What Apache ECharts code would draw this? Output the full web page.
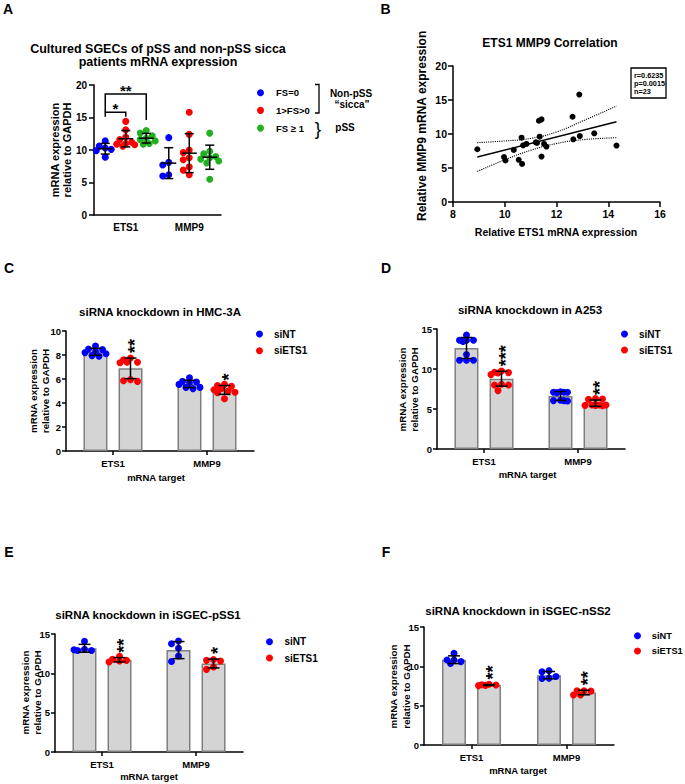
<!DOCTYPE html>
<html>
<head>
<meta charset="utf-8">
<title>ETS1 / MMP9 expression figure</title>
<script src="https://cdn.jsdelivr.net/npm/echarts@6/dist/echarts.min.js"></script>
<style>
html,body{margin:0;padding:0;background:#ffffff;}
#chart{width:685px;height:784px;}
</style>
</head>
<body>
<div id="chart"></div>
<script>
// ===================== DATA =====================
// Panel A : cultured SGECs, mRNA expression relative to GAPDH
const targets = ['ETS1', 'MMP9'];
const fsGroups = ['FS=0', '1>FS>0', 'FS ≥ 1'];
const aYTicks = [0, 5, 10, 15, 20];
const aFs0Ets1  = [11.4, 10.6, 10.3, 10.1, 9.9, 8.9];
const aFs0Mmp9  = [11.9, 8.1, 7.7, 6.2, 6.0];
const aFs01Ets1 = [14.4, 13.1, 12.0, 11.6, 11.2, 11.0, 10.9, 10.8, 10.6];
const aFs01Mmp9 = [15.8, 12.4, 10.0, 9.6, 8.8, 8.5, 7.4, 6.9, 6.2];
const aFs1Ets1  = [13.0, 12.6, 12.2, 11.8, 11.6, 11.4, 11.0, 10.9];
const aFs1Mmp9  = [12.6, 9.8, 9.4, 9.0, 8.8, 8.6, 8.3, 8.0, 5.5];
// significance brackets (group indices, values on the y scale)
const aBracketFrom = [0, 0];
const aBracketTo = [1, 2];
const aBracketTop = [15.8, 18.6];
const aBracketLeftEnd = [15.1, 15.8];
const aBracketRightEnd = [15.1, 14.6];
const aBracketLabel = ['*', '**'];

// Panel B : correlation
const bXTicks = [8, 10, 12, 14, 16];
const bYTicks = [0, 5, 10, 15, 20];
const bEts1 = [8.94, 9.97, 10.03, 10.35, 10.54, 10.65, 10.67, 10.71, 10.84, 11.2, 11.25, 11.32,
               11.42, 11.35, 11.42, 11.52, 11.61, 12.62, 12.65, 12.88, 12.9, 13.46, 14.32];
const bMmp9 = [7.76, 6.6, 6.1, 7.66, 6.2, 9.46, 5.6, 8.34, 8.54, 8.78, 8.7, 11.95,
               12.15, 9.6, 6.68, 8.54, 8.15, 12.54, 9.22, 15.8, 9.7, 10.1, 8.3];
const bFitEts1 = [8.94, 14.32];
const bFitMmp9 = [6.62, 11.8];
const bBandEts1 = [8.94, 10, 11, 12, 13, 14.32];
const bBandUpper = [8.73, 8.98, 9.35, 10.3, 11.9, 14.1];
const bBandLower = [4.5, 6.2, 7.6, 8.6, 9.15, 9.45];
const bStatsText = ['r=0.6235', 'p=0.0015', 'n=23'];

// Panels C-F : siRNA knockdown
const kdGroups = ['siNT', 'siETS1'];
const cYTicks = [0, 2, 4, 6, 8, 10];
const cSiNTEts1   = [8.75, 8.5, 8.45, 8.3, 8.2, 8.1, 7.95, 7.9];
const cSiNTMmp9   = [6.1, 5.8, 5.75, 5.7, 5.55, 5.3, 5.3, 5.2];
const cSiETS1Ets1 = [7.75, 7.6, 7.4, 7.4, 7.35, 5.95, 5.85, 5.8];
const cSiETS1Mmp9 = [5.55, 5.45, 5.4, 5.2, 5.1, 5.0, 4.9, 4.85, 4.35];
const cStars = ['**', '*'];

const dYTicks = [0, 5, 10, 15];
const dSiNTEts1   = [14.25, 13.6, 13.6, 13.6, 13.45, 11.8, 11.1, 11.1, 11.1];
const dSiNTMmp9   = [7.15, 7.1, 7.1, 7.05, 7.1, 6.1, 6.05, 6.0, 6.05];
const dSiETS1Ets1 = [9.75, 9.6, 9.55, 9.5, 9.3, 8.1, 8.0, 8.0, 7.3];
const dSiETS1Mmp9 = [6.3, 6.2, 6.25, 5.5, 5.5, 5.45, 5.5, 5.45, 5.4];
const dStars = ['***', '**'];

const eYTicks = [0, 5, 10, 15];
const eSiNTEts1   = [14.07, 13.05, 12.9, 12.9, 13.0];
const eSiNTMmp9   = [14.1, 13.77, 13.2, 12.2, 11.5];
const eSiETS1Ets1 = [12.16, 11.78, 11.65, 11.57, 11.44];
const eSiETS1Mmp9 = [11.74, 11.65, 11.57, 10.8, 10.5];
const eStars = ['**', '*'];

const fYTicks = [0, 5, 10, 15];
const fSiNTEts1   = [11.65, 10.8, 10.8, 10.6, 10.35];
const fSiNTMmp9   = [9.45, 9.3, 8.7, 8.5, 8.45];
const fSiETS1Ets1 = [7.72, 7.65, 7.62, 7.58, 7.55];
const fSiETS1Mmp9 = [6.9, 6.9, 6.85, 6.35, 6.35];
const fStars = ['**', '**'];

// ===================== STYLE / HELPERS =====================
const FONT = '"Liberation Sans", Arial, Helvetica, sans-serif';
const BLUE = '#0000FF', RED = '#FF0000', GREEN = '#22B022';
const mean = a => a.reduce((s, v) => s + v, 0) / a.length;
const sd = a => { const m = mean(a); return Math.sqrt(a.reduce((s, v) => s + (v - m) * (v - m), 0) / (a.length - 1)); };

// simple beeswarm: horizontal pixel offsets so that dots do not overlap
function swarm(values, pxPerUnit, cands, minDist) {
  const placed = [];
  return values.map(v => {
    const y = v * pxPerUnit;
    let best = cands[0], bestD = -1;
    for (const c of cands) {
      let dmin = Infinity;
      for (const p of placed) dmin = Math.min(dmin, Math.hypot(p[0] - c, p[1] - y));
      if (dmin >= minDist) { best = c; break; }
      if (dmin > bestD) { bestD = dmin; best = c; }
    }
    placed.push([best, y]);
    return best;
  });
}

function valueAxis(gi, ticks, fs, margin, tickLen) {
  return {
    type: 'value', gridIndex: gi, min: ticks[0], max: ticks[ticks.length - 1], interval: ticks[1] - ticks[0],
    axisLine: { show: true, onZero: false, lineStyle: { color: '#000', width: 1.5 } },
    axisTick: { show: true, length: tickLen, lineStyle: { color: '#000', width: 1.5 } },
    axisLabel: { color: '#000', fontWeight: 'bold', fontSize: fs, margin: margin, fontFamily: FONT },
    splitLine: { show: false }
  };
}
function catAxis(gi, showTick, fs, margin) {
  return {
    type: 'category', gridIndex: gi, data: targets,
    axisLine: { show: true, onZero: false, lineStyle: { color: '#000', width: 1.5 } },
    axisTick: { show: showTick, alignWithLabel: true, length: 4, lineStyle: { color: '#000', width: 1.5 } },
    axisLabel: { color: '#000', fontWeight: 'bold', fontSize: fs, margin: margin, fontFamily: FONT },
    splitLine: { show: false }
  };
}
function makeErrRender(offset, capHalf, meanHalf, stars, starSize) {
  return function (params, api) {
    const cat = api.value(0), m = api.value(1), s = api.value(2);
    const c = api.coord([cat, m]);
    const top = api.coord([cat, m + s])[1];
    const bot = api.coord([cat, m - s])[1];
    const x = c[0] + offset;
    const st = { stroke: '#000', lineWidth: 1.5 };
    const ch = [
      { type: 'line', shape: { x1: x, y1: top, x2: x, y2: bot }, style: st },
      { type: 'line', shape: { x1: x - capHalf, y1: top, x2: x + capHalf, y2: top }, style: st },
      { type: 'line', shape: { x1: x - capHalf, y1: bot, x2: x + capHalf, y2: bot }, style: st }
    ];
    if (meanHalf) ch.push({ type: 'line', shape: { x1: x - meanHalf, y1: c[1], x2: x + meanHalf, y2: c[1] }, style: st });
    const label = stars ? stars[params.dataIndex] : '';
    if (label) ch.push({
      type: 'text', x: x + 4, y: top - 5, rotation: Math.PI / 2,
      style: { text: label, fontSize: starSize, fontWeight: 'bold', fontFamily: FONT, fill: '#000', align: 'left', verticalAlign: 'middle' }
    });
    return { type: 'group', children: ch };
  };
}
function T(text, x, y, size, extra) {
  extra = extra || {};
  return {
    type: 'text', x: x, y: y, rotation: extra.rotation || 0, silent: true,
    style: {
      text: text, fontSize: size, fontWeight: extra.weight || 'bold', fontFamily: FONT, fill: extra.fill || '#000',
      align: extra.align || 'center', verticalAlign: extra.valign || 'middle', lineHeight: extra.lineHeight || size * 1.15
    }
  };
}

const grids = [], xAxes = [], yAxes = [], series = [], legends = [], graphics = [];
const legendText = (fs, lh) => ({ fontSize: fs, fontWeight: 'bold', color: '#000', fontFamily: FONT, lineHeight: lh });

// ===================== PANEL A =====================
grids.push({ left: 94, top: 85, width: 127, height: 130, outerBoundsMode: 'none' });
xAxes.push(catAxis(0, false, 10, 7));
yAxes.push(valueAxis(0, aYTicks, 10, 7, 5));
const aData = [[aFs0Ets1, aFs0Mmp9], [aFs01Ets1, aFs01Mmp9], [aFs1Ets1, aFs1Mmp9]];
const aColors = [BLUE, RED, GREEN];
const aOffsets = [-20.5, 0, 20.5];
aData.forEach((grp, g) => {
  const pts = [];
  grp.forEach((vals, t) => {
    const jit = swarm(vals, 130 / 20, [0, -6, 6, -3, 3, -9, 9], 6);
    vals.forEach((v, i) => pts.push({ value: [t, v], symbolOffset: [aOffsets[g] + jit[i], 0] }));
  });
  series.push({ type: 'scatter', name: fsGroups[g], xAxisIndex: 0, yAxisIndex: 0, symbol: 'circle', symbolSize: 7,
    itemStyle: { color: aColors[g], opacity: 1 }, data: pts, z: 3, silent: true });
  series.push({ type: 'custom', xAxisIndex: 0, yAxisIndex: 0, z: 4, silent: true,
    data: grp.map((vals, t) => [t, mean(vals), sd(vals)]),
    renderItem: makeErrRender(aOffsets[g], 4.5, 7.5, null, 0) });
});
series.push({
  type: 'custom', xAxisIndex: 0, yAxisIndex: 0, z: 4, silent: true,
  data: aBracketTop.map((y, i) => [0, y, i]),
  renderItem: function (params, api) {
    const i = params.dataIndex;
    const base = api.coord([0, aBracketTop[i]]);
    const x1 = base[0] + aOffsets[aBracketFrom[i]], x2 = base[0] + aOffsets[aBracketTo[i]];
    const yt = base[1];
    const yl = api.coord([0, aBracketLeftEnd[i]])[1], yr = api.coord([0, aBracketRightEnd[i]])[1];
    return { type: 'group', children: [
      { type: 'polyline', shape: { points: [[x1, yl], [x1, yt], [x2, yt], [x2, yr]] }, style: { stroke: '#000', lineWidth: 1.5, fill: null } },
      { type: 'text', x: (x1 + x2) / 2, y: yt - 4, style: { text: aBracketLabel[i], align: 'center', verticalAlign: 'middle', fontSize: 15, fontWeight: 'bold', fontFamily: FONT, fill: '#000' } }
    ] };
  }
});
legends.push({ data: fsGroups, left: 257, top: 86.7, orient: 'vertical', padding: 0, itemWidth: 21, itemHeight: 7,
  itemGap: 5.7, icon: 'circle', selectedMode: false, textStyle: legendText(9.5, 12) });

// ===================== PANEL B =====================
grids.push({ left: 453, top: 66, width: 207, height: 136, outerBoundsMode: 'none' });
xAxes.push(valueAxis(1, bXTicks, 10.5, 6, 5));
yAxes.push(valueAxis(1, bYTicks, 10.5, 6, 5));
series.push({ type: 'scatter', name: 'ETS1 vs MMP9', xAxisIndex: 1, yAxisIndex: 1, symbolSize: 6, itemStyle: { color: '#000', opacity: 1 },
  data: bEts1.map((x, i) => [x, bMmp9[i]]), z: 3, silent: true });
series.push({ type: 'line', name: 'fit', xAxisIndex: 1, yAxisIndex: 1, symbol: 'none', silent: true,
  lineStyle: { color: '#000', width: 1.5 }, data: bFitEts1.map((x, i) => [x, bFitMmp9[i]]), z: 2 });
series.push({ type: 'line', name: 'upper 95% CI', xAxisIndex: 1, yAxisIndex: 1, symbol: 'none', smooth: true, silent: true,
  lineStyle: { color: '#000', width: 1.1, type: 'dotted' }, data: bBandEts1.map((x, i) => [x, bBandUpper[i]]), z: 2 });
series.push({ type: 'line', name: 'lower 95% CI', xAxisIndex: 1, yAxisIndex: 1, symbol: 'none', smooth: true, silent: true,
  lineStyle: { color: '#000', width: 1.1, type: 'dotted' }, data: bBandEts1.map((x, i) => [x, bBandLower[i]]), z: 2 });

// ===================== PANELS C-F =====================
const kdPanels = [
  { grid: { left: 66, top: 331, width: 188, height: 120 }, ticks: cYTicks, siNT: [cSiNTEts1, cSiNTMmp9], siETS1: [cSiETS1Ets1, cSiETS1Mmp9], stars: cStars,
    legend: { left: 256, top: 328, itemWidth: 19, itemGap: 4.7, fs: 10 } },
  { grid: { left: 437, top: 329, width: 188, height: 120 }, ticks: dYTicks, siNT: [dSiNTEts1, dSiNTMmp9], siETS1: [dSiETS1Ets1, dSiETS1Mmp9], stars: dStars,
    legend: { left: 621, top: 328, itemWidth: 19, itemGap: 4, fs: 10 } },
  { grid: { left: 55, top: 634, width: 188, height: 118 }, ticks: eYTicks, siNT: [eSiNTEts1, eSiNTMmp9], siETS1: [eSiETS1Ets1, eSiETS1Mmp9], stars: eStars,
    legend: { left: 266, top: 635.7, itemWidth: 20, itemGap: 4.3, fs: 10 } },
  { grid: { left: 424, top: 627, width: 190, height: 118 }, ticks: fYTicks, siNT: [fSiNTEts1, fSiNTMmp9], siETS1: [fSiETS1Ets1, fSiETS1Mmp9], stars: fStars,
    legend: { left: 634, top: 629.7, itemWidth: 18.5, itemGap: 3.3, fs: 9.3 } }
];
kdPanels.forEach((p, k) => {
  const gi = k + 2;
  grids.push(Object.assign({ outerBoundsMode: 'none' }, p.grid));
  xAxes.push(catAxis(gi, true, 9.5, 7));
  yAxes.push(valueAxis(gi, p.ticks, 9.5, 5, 4));
  const ppu = p.grid.height / p.ticks[p.ticks.length - 1];
  const groups = [p.siNT, p.siETS1];
  const offs = [-17.5, 17.5];
  const cols = [BLUE, RED];
  groups.forEach((grp, g) => {
    series.push({ type: 'bar', name: kdGroups[g] + ' mean', xAxisIndex: gi, yAxisIndex: gi, barWidth: 24, barGap: '46%',
      itemStyle: { color: '#D4D4D4', borderColor: '#7F7F7F', borderWidth: 1.5 }, data: grp.map(mean), z: 1, silent: true });
  });
  groups.forEach((grp, g) => {
    const pts = [];
    grp.forEach((vals, t) => {
      const jit = swarm(vals, ppu, [0, -7, 7, -3.5, 3.5, -10.5, 10.5], 6.5);
      vals.forEach((v, i) => pts.push({ value: [t, v], symbolOffset: [offs[g] + jit[i], 0] }));
    });
    series.push({ type: 'scatter', name: kdGroups[g], xAxisIndex: gi, yAxisIndex: gi, symbol: 'circle', symbolSize: 7,
      itemStyle: { color: cols[g], opacity: 1 }, data: pts, z: 3, silent: true });
    series.push({ type: 'custom', xAxisIndex: gi, yAxisIndex: gi, z: 4, silent: true,
      data: grp.map((vals, t) => [t, mean(vals), sd(vals)]),
      renderItem: makeErrRender(offs[g], 6, 0, g === 1 ? p.stars : null, 18) });
  });
  legends.push({ data: kdGroups, left: p.legend.left, top: p.legend.top, orient: 'vertical', padding: 0,
    itemWidth: p.legend.itemWidth, itemHeight: 7, itemGap: p.legend.itemGap, icon: 'circle', selectedMode: false,
    textStyle: legendText(p.legend.fs, 12) });
});

// ===================== TEXT / ANNOTATIONS =====================
graphics.push(T('A', 8, 9, 14), T('B', 385.5, 8.5, 14), T('C', 9, 268, 14), T('D', 386, 268, 14), T('E', 9, 552, 14), T('F', 386, 552, 14));
graphics.push(T('Cultured SGECs of pSS and non-pSS sicca\npatients mRNA expression', 158, 55.5, 12.5, { lineHeight: 13.5 }));
graphics.push(T('ETS1 MMP9 Correlation', 550, 43, 12));
graphics.push(T('siRNA knockdown in HMC-3A', 160, 311.5, 11.5));
graphics.push(T('siRNA knockdown in A253', 530, 310, 11.5));
graphics.push(T('siRNA knockdown in iSGEC-pSS1', 148, 615, 11.5));
graphics.push(T('siRNA knockdown in iSGEC-nSS2', 518, 611, 11.5));
const yLab = 'mRNA expression\nrelative to GAPDH';
graphics.push(T(yLab, 61, 150, 11, { rotation: Math.PI / 2, lineHeight: 12.5 }));
graphics.push(T(yLab, 39, 391, 9.8, { rotation: Math.PI / 2, lineHeight: 12 }));
graphics.push(T(yLab, 408.5, 389.5, 9.8, { rotation: Math.PI / 2, lineHeight: 12.5 }));
graphics.push(T(yLab, 31, 692.5, 9.8, { rotation: Math.PI / 2, lineHeight: 12 }));
graphics.push(T(yLab, 400, 686.5, 9.8, { rotation: Math.PI / 2, lineHeight: 13 }));
graphics.push(T('Relative MMP9 mRNA expression', 422, 221, 12, { rotation: Math.PI / 2, align: 'left' }));
graphics.push(T('Relative ETS1 mRNA expression', 556, 232, 10.5));
graphics.push(T('mRNA target', 156, 477, 9.5), T('mRNA target', 527.5, 474, 9.5), T('mRNA target', 149, 776.7, 9.5), T('mRNA target', 518, 770, 9.5));
// panel A group annotations
graphics.push({ type: 'polyline', silent: true, shape: { points: [[315, 84.5], [319, 84.5], [319, 113], [315, 113]] }, style: { stroke: '#000', lineWidth: 1.3, fill: null } });
graphics.push(T('Non-pSS', 351, 93, 10), T('“sicca”', 352, 104.5, 10));
graphics.push(T('}', 318, 128.5, 19, { weight: 'normal' }), T('pSS', 345, 127.5, 10));
// panel B statistics box
graphics.push({ type: 'rect', silent: true, shape: { x: 631, y: 68, width: 35, height: 30 }, style: { stroke: '#000', lineWidth: 1.3, fill: '#fff' } });
bStatsText.forEach((s, i) => graphics.push(T(s, 634, 75 + i * 8.3, 7.3, { align: 'left', weight: 'bold', lineHeight: 8.3 })));

const chart = echarts.init(document.getElementById('chart'), null, { renderer: 'svg' });
chart.setOption({
  animation: false,
  backgroundColor: '#ffffff',
  textStyle: { fontFamily: FONT },
  grid: grids, xAxis: xAxes, yAxis: yAxes, legend: legends, series: series, graphic: graphics
});
</script>
</body>
</html>
